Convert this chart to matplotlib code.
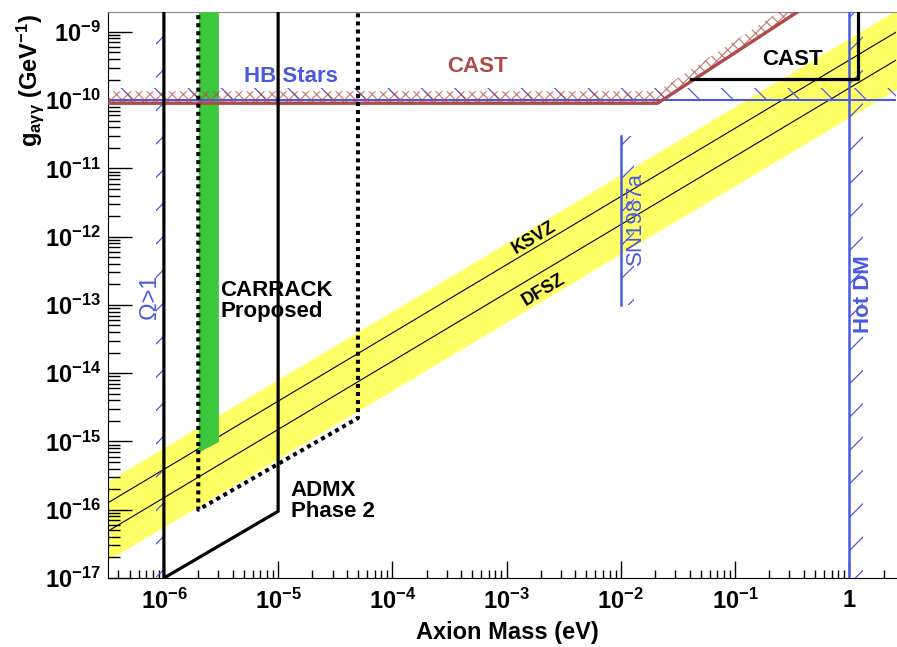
import numpy as np
import matplotlib
matplotlib.use('Agg')
import matplotlib.pyplot as plt
from matplotlib.ticker import FixedLocator, FuncFormatter, NullFormatter

# Шрифти: жирний Arial-подібний, як у ROOT
plt.rcParams['font.family'] = ['Liberation Sans', 'DejaVu Sans']
plt.rcParams['font.weight'] = 'bold'
plt.rcParams['mathtext.fontset'] = 'custom'
plt.rcParams['mathtext.rm'] = 'Liberation Sans:bold'
plt.rcParams['mathtext.it'] = 'Liberation Sans:bold'
plt.rcParams['mathtext.bf'] = 'Liberation Sans:bold'
plt.rcParams['mathtext.default'] = 'bf'
plt.rcParams['hatch.linewidth'] = 0.9

# Дані
mass_ends = [3.2e-7, 2.6]
ksvz_g = [1.25e-16, 1.0e-9]
dfsz_g = [4.8e-17, 3.9e-10]
band_top = [2.6e-16, 2.1e-9]
band_bottom = [1.8e-17, 1.45e-10]

hb_g = 1.0e-10
cast_mass = [3.2e-7, 0.021, 0.36]
cast_g = [0.9e-10, 0.9e-10, 2.0e-9]
cast_future_mass = [0.041, 1.2, 1.2]
cast_future_g = [2.06e-10, 2.06e-10, 1e-8]

admx_mass = [1e-6, 1e-6, 1e-5, 1e-5]
admx_g = [1e-8, 1e-17, 0.95e-16, 1e-8]
carrack_mass = [2e-6, 2e-6, 5e-5, 5e-5]
carrack_g = [1e-8, 1e-16, 2.2e-15, 1e-8]
green_mass = [2e-6, 3e-6]
green_g = [7e-16, 1e-15]

sn_mass = 1e-2
sn_g = [1e-13, 3e-11]
hotdm_mass = 1.0
omega_mass = 1e-6

x_range = [3.24e-7, 2.57]
y_range = [1e-17, 1.95e-9]
x_ticks = [1e-6, 1e-5, 1e-4, 1e-3, 1e-2, 1e-1, 1]
y_ticks = [1e-17, 1e-16, 1e-15, 1e-14, 1e-13, 1e-12, 1e-11, 1e-10, 1e-9]

blue = '#4a5ae0'
red = '#b04a46'

fig = plt.figure(figsize=(8.97, 6.47), dpi=100)
ax = fig.add_axes([0.1204, 0.1066, 0.8785, 0.8748])
ax.set_xscale('log')
ax.set_yscale('log')
ax.set_xlim(x_range)
ax.set_ylim(y_range)

# Жовта смуга KSVZ / DFSZ
ax.fill_between(mass_ends, band_bottom, band_top, color='#ffff66', lw=0, zorder=1)
ax.plot(mass_ends, ksvz_g, color='black', lw=0.8, zorder=2)
ax.plot(mass_ends, dfsz_g, color='black', lw=0.8, zorder=2)

# Зелена смуга
ax.fill_between(green_mass, green_g, [1e-8, 1e-8], color='#3cc83c', lw=0, zorder=3)

# HB stars
ax.fill_between(x_range, [hb_g, hb_g], [hb_g * 1.5, hb_g * 1.5], facecolor='none',
                edgecolor=blue, hatch='\\', lw=0, zorder=4)
ax.axhline(hb_g, color=blue, lw=1.5, zorder=4)

# CAST
cast_g = np.array(cast_g)
ax.fill_between(cast_mass, cast_g, cast_g * 1.5, facecolor='none',
                edgecolor=red, hatch='xxx', lw=0, zorder=4, alpha=0.7)
ax.plot(cast_mass, cast_g, color=red, lw=2.4, zorder=4)

# Hot DM, SN1987a, Omega>1
ax.fill_betweenx(y_range, hotdm_mass, hotdm_mass * 1.32, facecolor='none',
                 edgecolor=blue, hatch='/', lw=0, zorder=4)
ax.axvline(hotdm_mass, color=blue, lw=1.8, zorder=4)
ax.fill_betweenx(sn_g, sn_mass, sn_mass * 1.3, facecolor='none',
                 edgecolor=blue, hatch='/', lw=0, zorder=4)
ax.plot([sn_mass, sn_mass], sn_g, color=blue, lw=1.8, zorder=4)
ax.fill_betweenx(y_range, omega_mass * 0.86, omega_mass, facecolor='none',
                 edgecolor=blue, hatch='/', lw=0, zorder=4)

# ADMX, CARRACK, майбутній CAST
ax.plot(admx_mass, admx_g, color='black', lw=2.3, zorder=5, solid_joinstyle='miter')
ax.plot(carrack_mass, carrack_g, color='black', lw=2.9, ls=(0, (1, 1)), zorder=5)
ax.plot(cast_future_mass, cast_future_g, color='black', lw=2.3, zorder=5)

# Підписи
ax.text(5e-6, 2.2e-10, 'HB Stars', color=blue, fontsize=16, ha='left', va='center', zorder=6)
ax.text(5.6e-4, 3.1e-10, 'CAST', color=red, fontsize=16, ha='center', va='center', zorder=6)
ax.text(0.32, 3.9e-10, 'CAST', color='black', fontsize=16, ha='center', va='center', zorder=6)
ax.text(1.74e-3, 9.5e-13, 'KSVZ', fontsize=13, rotation=31, ha='center', va='center', zorder=6,
        rotation_mode='anchor')
ax.text(2.1e-3, 1.64e-13, 'DFSZ', fontsize=13, rotation=31, ha='center', va='center', zorder=6,
        rotation_mode='anchor')
ax.text(3.1e-6, 1.13e-13, 'CARRACK\nProposed', fontsize=16, ha='left', va='center',
        linespacing=1.0, zorder=6)
ax.text(1.29e-5, 1.35e-16, 'ADMX\nPhase 2', fontsize=16, ha='left', va='center',
        linespacing=1.0, zorder=6)
ax.text(7.55e-7, 1.3e-13, 'Ω>1', color=blue, fontsize=17, rotation=90, ha='center',
        va='center', fontweight='normal', zorder=6)
ax.text(0.0135, 1.86e-12, 'SN1987a', color=blue, fontsize=16, rotation=90, ha='center',
        va='center', fontweight='normal', zorder=6)
ax.text(1.325, 1.46e-13, 'Hot DM', color=blue, fontsize=16, rotation=90, ha='center',
        va='center', zorder=6)

# Осі
def log_label(v, pos):
    p = int(round(np.log10(v)))
    if p == 0:
        return '1'
    return r'$10^{%d}$' % p

def minor_ticks(lo, hi):
    return [m * 10.0 ** p for p in range(lo, hi) for m in range(2, 10)]

ax.xaxis.set_major_locator(FixedLocator(x_ticks))
ax.yaxis.set_major_locator(FixedLocator(y_ticks))
ax.xaxis.set_minor_locator(FixedLocator([t for t in minor_ticks(-7, 1) if x_range[0] < t < x_range[1]]))
ax.yaxis.set_minor_locator(FixedLocator([t for t in minor_ticks(-17, -8) if y_range[0] < t < y_range[1]]))
ax.xaxis.set_major_formatter(FuncFormatter(log_label))
ax.yaxis.set_major_formatter(FuncFormatter(log_label))
ax.xaxis.set_minor_formatter(NullFormatter())
ax.yaxis.set_minor_formatter(NullFormatter())
ax.tick_params(axis='x', which='major', direction='in', length=12, width=1, labelsize=17, pad=8)
ax.tick_params(axis='x', which='minor', direction='in', length=6, width=1)
ax.tick_params(axis='y', which='major', direction='in', length=17, width=1, labelsize=17, pad=5)
ax.tick_params(axis='y', which='minor', direction='in', length=8.5, width=1)
ax.spines['right'].set_visible(False)
ax.spines['top'].set_color('#888888')

fig.text(507 / 897, 1 - 633 / 647, 'Axion Mass (eV)', fontsize=17, ha='center', va='center')
fig.text(30 / 897, 1 - 80 / 647, r'$g_{a\gamma\gamma}$ (GeV$^{-1}$)', fontsize=17,
         rotation=90, ha='center', va='center')

fig.savefig('out.png', dpi=100)
